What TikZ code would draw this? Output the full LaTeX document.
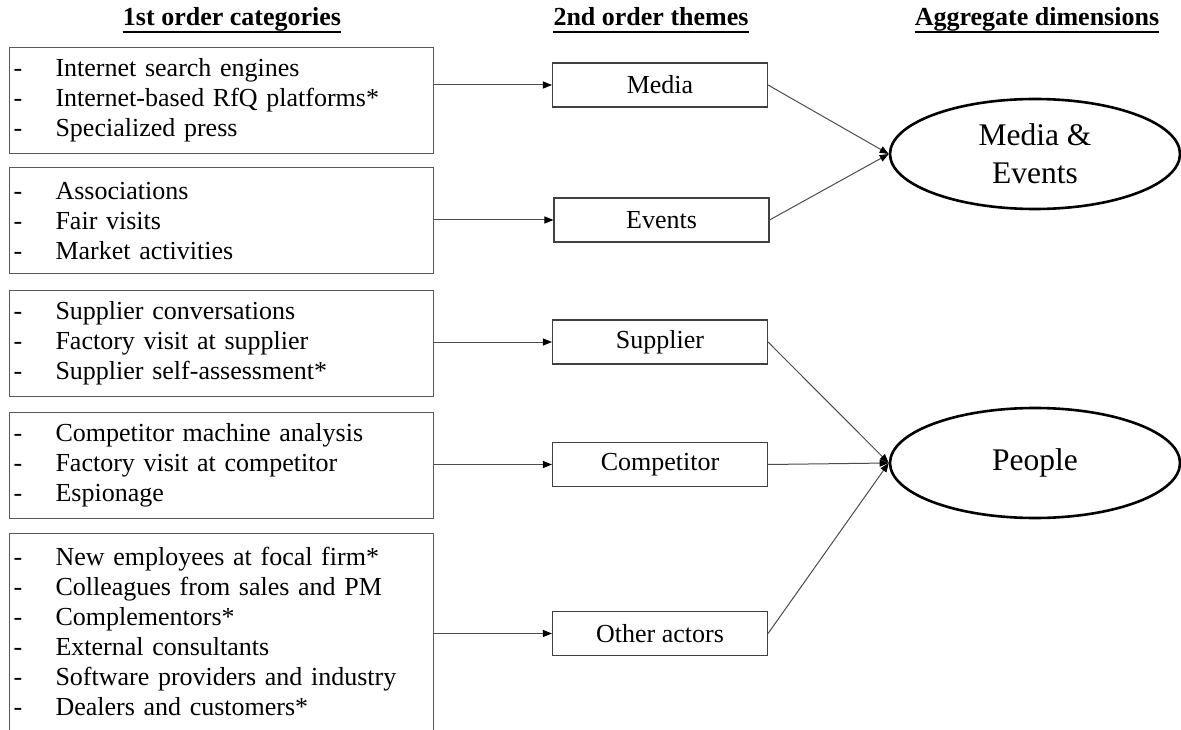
\documentclass[tikz,border=0pt]{standalone}
\usepackage{fontspec}
\setmainfont{Liberation Serif}
\usetikzlibrary{arrows.meta,shapes.geometric}

% one list entry inside a category box: dash, then the indented text
\newcommand{\dashitem}[1]{\makebox[42pt][l]{-}#1}

\tikzset{
  catbox/.style={draw=black!65, line width=1.1pt, anchor=north west,
    text width=416pt, align=left, inner xsep=4pt, inner ysep=6pt,
    minimum width=424pt, minimum height=106pt,
    font=\fontsize{26}{30}\selectfont},
  theme/.style={draw=black!75, line width=1.1pt, minimum width=215pt,
    minimum height=44pt, inner sep=0pt, font=\fontsize{26}{30}\selectfont},
  dimension/.style={ellipse, draw=black, line width=2.6pt,
    minimum width=290pt, minimum height=110pt, inner sep=0pt,
    align=center, font=\fontsize{31.5}{38}\selectfont},
  header/.style={anchor=base, inner sep=0pt,
    font=\fontsize{26}{30}\selectfont\bfseries},
  headrule/.style={line width=2.2pt},
  link/.style={draw=black!70, line width=1pt,
    -{Triangle[length=9pt,width=7pt,color=black]}},
}

\begin{document}
\begin{tikzpicture}[x=1pt,y=-1pt]
  \clip (0,0) rectangle (1181,730);
  \fill[white] (0,0) rectangle (1181,730);

  % column headings
  \node[header] (h1) at (232,26) {1st order categories};
  \node[header] (h2) at (651,26) {2nd order themes};
  \node[header] (h3) at (1037,26) {Aggregate dimensions};
  \foreach \h in {h1,h2,h3}
    \draw[headrule] ([yshift=-6pt]\h.base west) -- ([yshift=-6pt]\h.base east);

  % first order categories
  \node[catbox] (c1) at (9,47) {\dashitem{Internet search engines}\\
    \dashitem{Internet-based RfQ platforms*}\\
    \dashitem{Specialized press}};
  \node[catbox] (c2) at (9,167) {\dashitem{Associations}\\
    \dashitem{Fair visits}\\
    \dashitem{Market activities}};
  \node[catbox] (c3) at (9,290) {\dashitem{Supplier conversations}\\
    \dashitem{Factory visit at supplier}\\
    \dashitem{Supplier self-assessment*}};
  \node[catbox] (c4) at (9,412) {\dashitem{Competitor machine analysis}\\
    \dashitem{Factory visit at competitor}\\
    \dashitem{Espionage}};
  \node[catbox, inner ysep=14pt] (c5) at (9,533) {\dashitem{New employees at focal firm*}\\
    \dashitem{Colleagues from sales and PM}\\
    \dashitem{Complementors*}\\
    \dashitem{External consultants}\\
    \dashitem{Software providers and industry}\\
    \dashitem{Dealers and customers*}};

  % second order themes
  \node[theme] (media) at (660,85) {Media};
  \node[theme] (events) at (661.5,220) {Events};
  \node[theme] (supplier) at (660,342) {Supplier};
  \node[theme] (competitor) at (660,464.5) {Competitor};
  \node[theme] (other) at (660,633.5) {Other actors};

  % aggregate dimensions
  \node[dimension] (me) at (1035,154) {Media \&\\Events};
  \node[dimension] (people) at (1035,463) {People};

  % categories to themes
  \draw[link] (c1.east |- media.west) -- (media.west);
  \draw[link] (c2.east |- events.west) -- (events.west);
  \draw[link] (c3.east |- supplier.west) -- (supplier.west);
  \draw[link] (c4.east |- competitor.west) -- (competitor.west);
  \draw[link] (c5.east |- other.west) -- (other.west);

  % themes to dimensions
  \draw[link] (media.east) -- (me.west);
  \draw[link] (events.east) -- (me.west);
  \draw[link] (supplier.east) -- (people.west);
  \draw[link] (competitor.east) -- (people.west);
  \draw[link] (other.east) -- (people.west);
\end{tikzpicture}
\end{document}
